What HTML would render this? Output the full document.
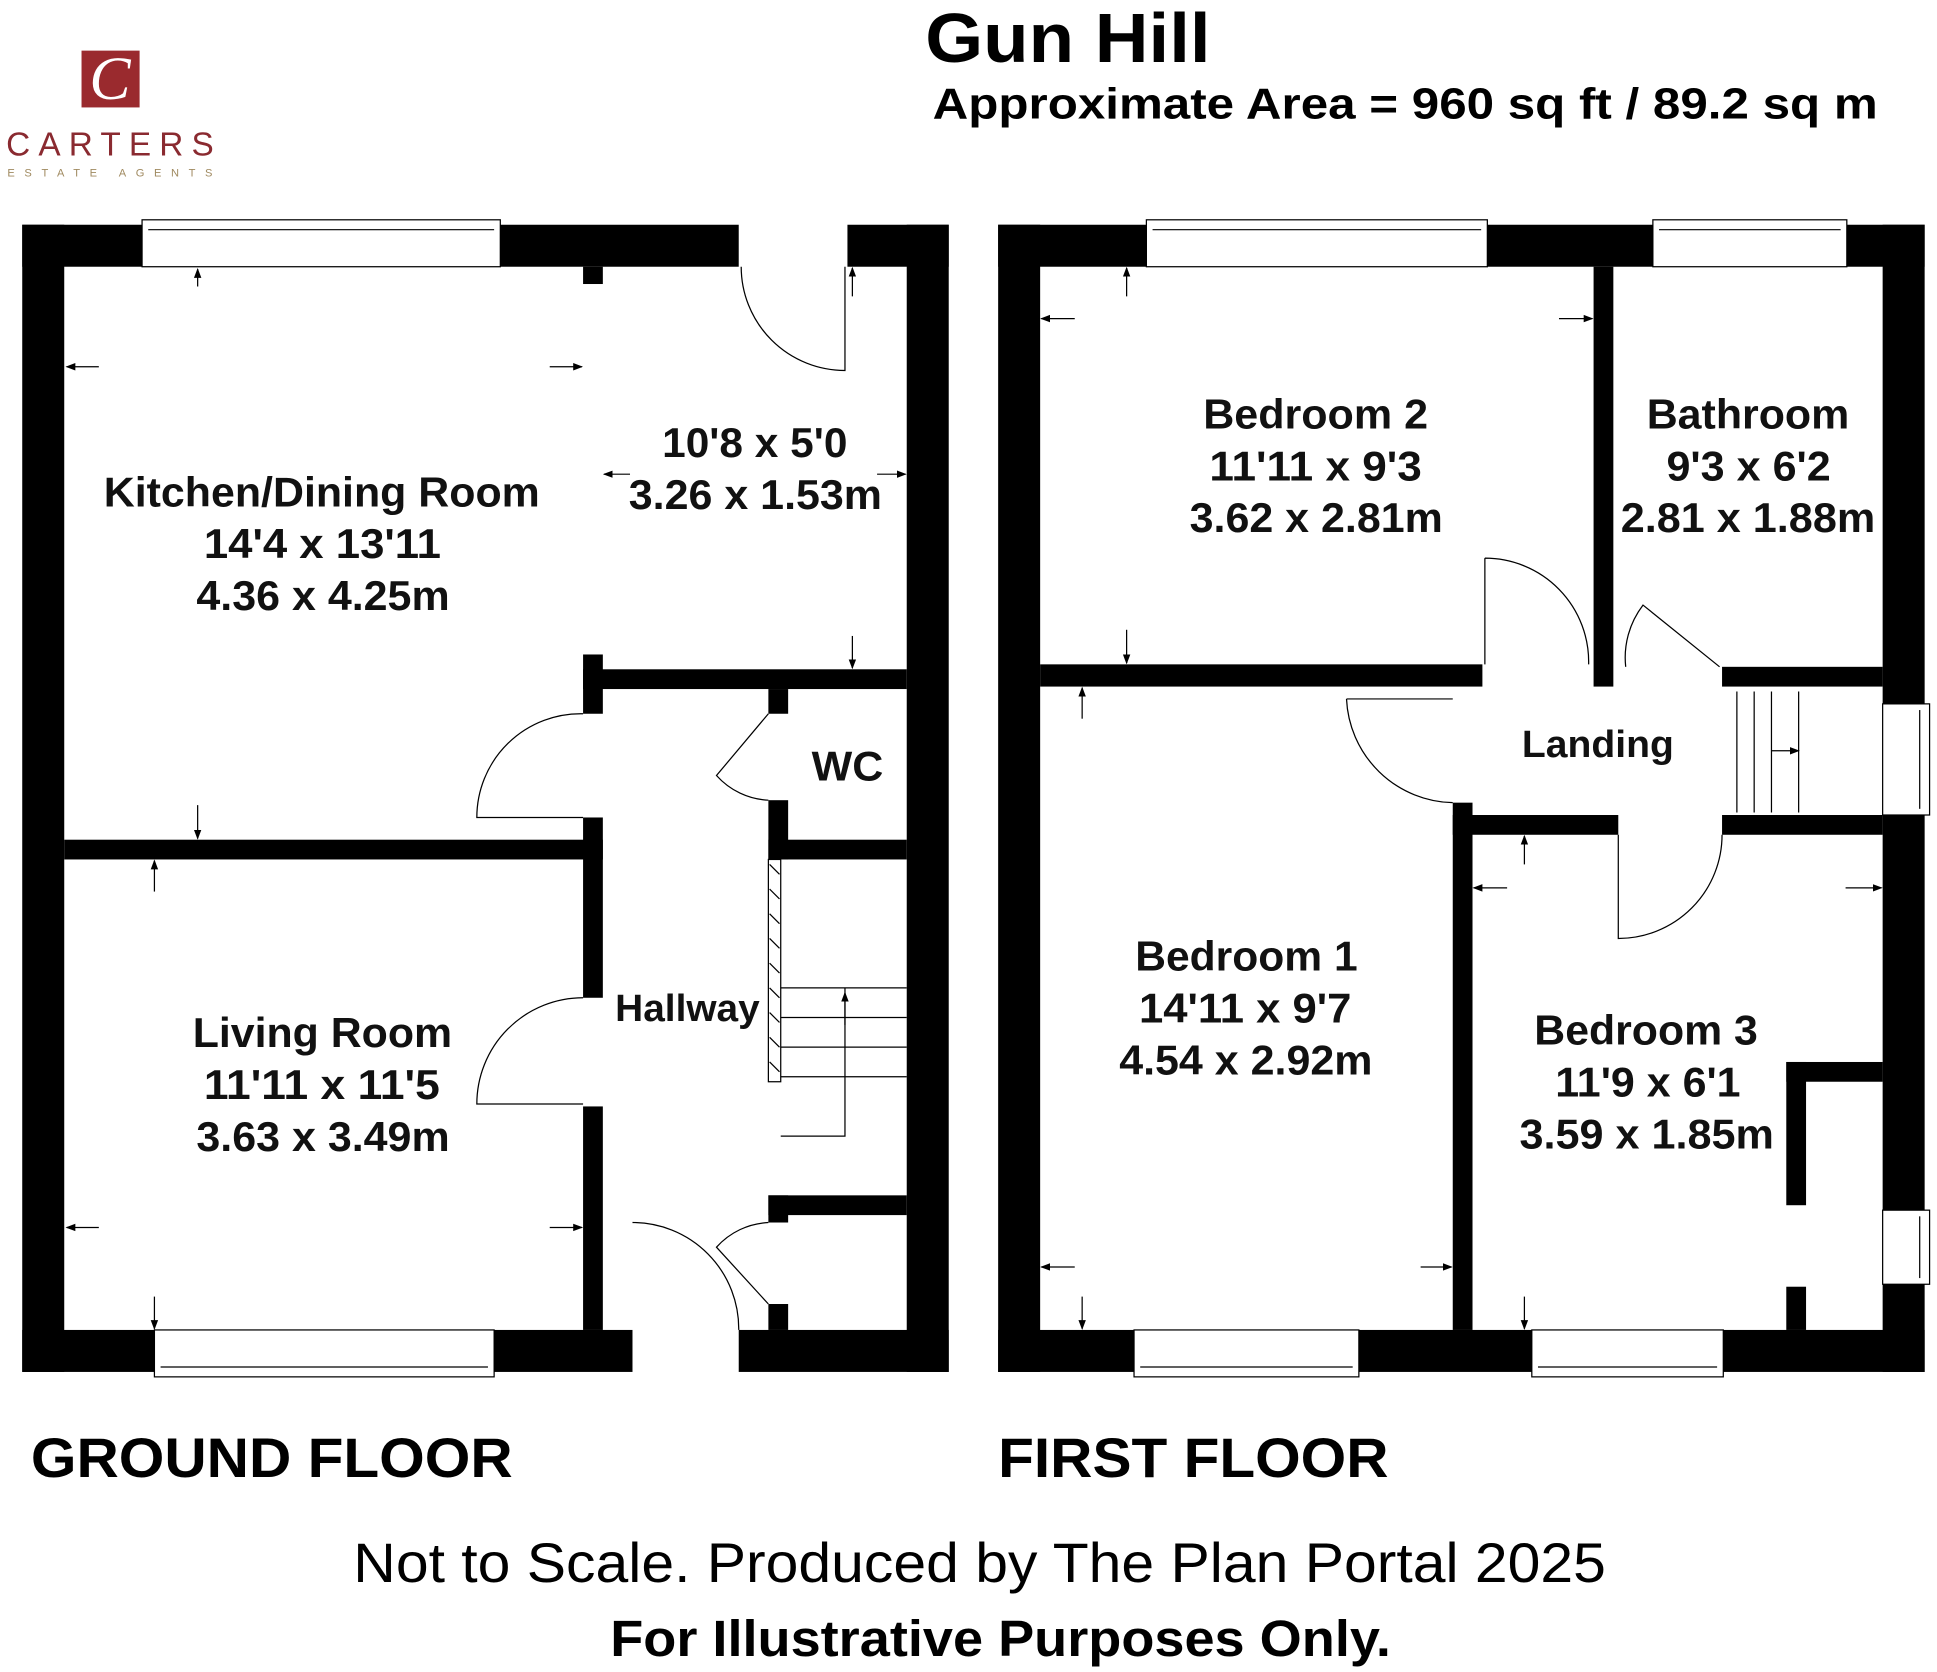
<!DOCTYPE html>
<html><head><style>html,body{margin:0;padding:0;background:#fff}svg{display:block}</style></head>
<body>
<svg width="1937" height="1672" viewBox="0 0 1568 1354" preserveAspectRatio="none" xmlns="http://www.w3.org/2000/svg" font-family="Liberation Sans, Arial, sans-serif">
<defs><marker id="a" markerWidth="8" markerHeight="8" refX="7" refY="4" orient="auto" markerUnits="userSpaceOnUse"><path d="M0 1 L8 4 L0 7 Z" fill="#000"/></marker></defs>
<rect width="1568" height="1354" fill="#fff"/>
<!-- logo -->
<rect x="66" y="41" width="47" height="46" fill="#9a2a2e"/>
<text x="89" y="80" font-family="Liberation Serif, serif" font-style="italic" font-size="50" fill="#fff" text-anchor="middle">C</text>
<text x="5" y="126" font-size="27" fill="#8a2a30" textLength="168" lengthAdjust="spacing">CARTERS</text>
<text x="6" y="143" font-size="9" fill="#a08a60" textLength="166" lengthAdjust="spacing">ESTATE AGENTS</text>
<!-- title -->
<text x="749" y="50" font-size="56" font-weight="bold" textLength="231" lengthAdjust="spacingAndGlyphs">Gun Hill</text>
<text x="755" y="96" font-size="35" font-weight="bold" textLength="765" lengthAdjust="spacingAndGlyphs">Approximate Area = 960 sq ft / 89.2 sq m</text>

<g fill="#000">
<rect x="18" y="182" width="34" height="929"/>
<rect x="18" y="182" width="97" height="34"/>
<rect x="405" y="182" width="193" height="34"/>
<rect x="686" y="182" width="82" height="34"/>
<rect x="734" y="182" width="34" height="929"/>
<rect x="18" y="1077" width="107" height="34"/>
<rect x="400" y="1077" width="112" height="34"/>
<rect x="598" y="1077" width="170" height="34"/>
<rect x="472" y="216" width="16" height="14"/>
<rect x="52" y="680" width="436" height="16"/>
<rect x="472" y="530" width="16" height="48"/>
<rect x="472" y="662" width="16" height="146"/>
<rect x="472" y="896" width="16" height="181"/>
<rect x="472" y="542" width="262" height="16"/>
<rect x="622" y="558" width="16" height="20"/>
<rect x="622" y="648" width="16" height="48"/>
<rect x="622" y="680" width="112" height="16"/>
<rect x="622" y="968" width="112" height="16"/>
<rect x="622" y="968" width="16" height="22"/>
<rect x="622" y="1056" width="16" height="21"/>
<rect x="808" y="182" width="34" height="929"/>
<rect x="808" y="182" width="120" height="34"/>
<rect x="1204" y="182" width="134" height="34"/>
<rect x="1495" y="182" width="63" height="34"/>
<rect x="1524" y="182" width="34" height="388"/>
<rect x="1524" y="660" width="34" height="320"/>
<rect x="1524" y="1040" width="34" height="71"/>
<rect x="808" y="1077" width="110" height="34"/>
<rect x="1100" y="1077" width="140" height="34"/>
<rect x="1395" y="1077" width="163" height="34"/>
<rect x="1290" y="216" width="16" height="340"/>
<rect x="842" y="538" width="358" height="18"/>
<rect x="1394" y="540" width="130" height="16"/>
<rect x="1176" y="650" width="16" height="427"/>
<rect x="1176" y="660" width="134" height="16"/>
<rect x="1394" y="660" width="130" height="16"/>
<rect x="1446" y="860" width="16" height="116"/>
<rect x="1446" y="860" width="78" height="16"/>
<rect x="1446" y="1042" width="16" height="35"/>
</g>
<g fill="#fff" stroke="#000" stroke-width="1">
<rect x="115" y="178" width="290" height="38"/>
<rect x="125" y="1077" width="275" height="38"/>
<rect x="928" y="178" width="276" height="38"/>
<rect x="1338" y="178" width="157" height="38"/>
<rect x="918" y="1077" width="182" height="38"/>
<rect x="1240" y="1077" width="155" height="38"/>
<rect x="1524" y="570" width="38" height="90"/>
<rect x="1524" y="980" width="38" height="60"/>
</g>
<g stroke="#000" stroke-width="1" fill="none">
<line x1="120" y1="186" x2="400" y2="186"/><line x1="130" y1="1107" x2="395" y2="1107"/>
<line x1="933" y1="186" x2="1199" y2="186"/><line x1="1343" y1="186" x2="1490" y2="186"/>
<line x1="923" y1="1107" x2="1095" y2="1107"/><line x1="1245" y1="1107" x2="1390" y2="1107"/>
<line x1="1554" y1="575" x2="1554" y2="655"/><line x1="1554" y1="985" x2="1554" y2="1035"/>
<path d="M600 216 A84 84 0 0 0 684 300 L684 216"/>
<path d="M472 578 A84 84 0 0 0 386 662 L472 662"/>
<path d="M472 808 A86 86 0 0 0 386 894 L472 894"/>
<path d="M512 990 A86 86 0 0 1 598 1077"/>
<path d="M622 578 L580 628 A60 60 0 0 0 622 648"/>
<path d="M622 1056 L580 1010 A60 60 0 0 1 622 990"/>
<path d="M1202 452 A84 84 0 0 1 1286 538 M1202 452 L1202 538"/>
<path d="M1392 540 L1330 490 A70 70 0 0 0 1316 540"/>
<path d="M1090 566 A88 88 0 0 0 1176 650 M1090 566 L1176 566"/>
<path d="M1310 676 L1310 760 A84 84 0 0 0 1394 676"/>
<rect x="622" y="696" width="10" height="180" fill="#fff"/>
<path d="M632 800 H734 M632 824 H734 M632 848 H734 M632 872 H734 M632 920 H684 V800"/>
<path d="M1406 560 V658 M1420 560 V658 M1434 560 V658 M1456 560 V658"/>
</g>
<g stroke="#000" stroke-width="1">
<path d="M623 700 L631 708 M623 720 L631 728 M623 740 L631 748 M623 760 L631 768 M623 780 L631 788 M623 800 L631 808 M623 820 L631 828 M623 840 L631 848 M623 860 L631 868"/>
</g>
<g stroke="#000" stroke-width="1" marker-end="url(#a)">
<line x1="160" y1="232" x2="160" y2="218"/><line x1="80" y1="297" x2="54" y2="297"/><line x1="445" y1="297" x2="471" y2="297"/>
<line x1="160" y1="652" x2="160" y2="679"/><line x1="125" y1="722" x2="125" y2="697"/><line x1="80" y1="994" x2="54" y2="994"/><line x1="445" y1="994" x2="471" y2="994"/><line x1="125" y1="1050" x2="125" y2="1076"/>
<line x1="690" y1="240" x2="690" y2="217"/><line x1="690" y1="515" x2="690" y2="541"/><line x1="510" y1="384" x2="489" y2="384"/><line x1="710" y1="384" x2="733" y2="384"/>
<line x1="912" y1="240" x2="912" y2="217"/><line x1="870" y1="258" x2="843" y2="258"/><line x1="1262" y1="258" x2="1289" y2="258"/><line x1="912" y1="510" x2="912" y2="537"/>
<line x1="876" y1="582" x2="876" y2="557"/><line x1="870" y1="1026" x2="843" y2="1026"/><line x1="1150" y1="1026" x2="1175" y2="1026"/><line x1="876" y1="1050" x2="876" y2="1076"/>
<line x1="1234" y1="700" x2="1234" y2="677"/><line x1="1220" y1="719" x2="1193" y2="719"/><line x1="1494" y1="719" x2="1523" y2="719"/><line x1="1234" y1="1050" x2="1234" y2="1076"/>
<line x1="684" y1="830" x2="684" y2="804"/><line x1="1434" y1="608" x2="1456" y2="608"/>
</g>
<g font-size="34" font-weight="bold" fill="#111" lengthAdjust="spacingAndGlyphs">
<text x="84" y="410" textLength="353" lengthAdjust="spacingAndGlyphs">Kitchen/Dining Room</text><text x="165" y="452" textLength="192" lengthAdjust="spacingAndGlyphs">14'4 x 13'11</text><text x="159" y="494" textLength="205" lengthAdjust="spacingAndGlyphs">4.36 x 4.25m</text>
<text x="536" y="370" textLength="150" lengthAdjust="spacingAndGlyphs">10'8 x 5'0</text><text x="509" y="412" textLength="205" lengthAdjust="spacingAndGlyphs">3.26 x 1.53m</text>
<text x="657" y="632" textLength="58" lengthAdjust="spacingAndGlyphs">WC</text>
<text x="498" y="827" font-size="31" textLength="117" lengthAdjust="spacingAndGlyphs">Hallway</text>
<text x="156" y="848" textLength="210" lengthAdjust="spacingAndGlyphs">Living Room</text><text x="165" y="890" textLength="191" lengthAdjust="spacingAndGlyphs">11'11 x 11'5</text><text x="159" y="932" textLength="205" lengthAdjust="spacingAndGlyphs">3.63 x 3.49m</text>
<text x="974" y="347" textLength="182" lengthAdjust="spacingAndGlyphs">Bedroom 2</text><text x="979" y="389" textLength="172" lengthAdjust="spacingAndGlyphs">11'11 x 9'3</text><text x="963" y="431" textLength="205" lengthAdjust="spacingAndGlyphs">3.62 x 2.81m</text>
<text x="1333" y="347" textLength="164" lengthAdjust="spacingAndGlyphs">Bathroom</text><text x="1349" y="389" textLength="133" lengthAdjust="spacingAndGlyphs">9'3 x 6'2</text><text x="1312" y="431" textLength="206" lengthAdjust="spacingAndGlyphs">2.81 x 1.88m</text>
<text x="1232" y="613" font-size="31" textLength="123" lengthAdjust="spacingAndGlyphs">Landing</text>
<text x="919" y="786" textLength="180" lengthAdjust="spacingAndGlyphs">Bedroom 1</text><text x="922" y="828" textLength="172" lengthAdjust="spacingAndGlyphs">14'11 x 9'7</text><text x="906" y="870" textLength="205" lengthAdjust="spacingAndGlyphs">4.54 x 2.92m</text>
<text x="1242" y="846" textLength="181" lengthAdjust="spacingAndGlyphs">Bedroom 3</text><text x="1259" y="888" textLength="150" lengthAdjust="spacingAndGlyphs">11'9 x 6'1</text><text x="1230" y="930" textLength="206" lengthAdjust="spacingAndGlyphs">3.59 x 1.85m</text>
</g>
<text x="25" y="1196" font-size="45" font-weight="bold" textLength="390" lengthAdjust="spacingAndGlyphs">GROUND FLOOR</text>
<text x="808" y="1196" font-size="45" font-weight="bold" textLength="316" lengthAdjust="spacingAndGlyphs">FIRST FLOOR</text>
<text x="286" y="1281" font-size="45" textLength="1014" lengthAdjust="spacingAndGlyphs">Not to Scale. Produced by The Plan Portal 2025</text>
<text x="494" y="1341" font-size="41" font-weight="bold" textLength="632" lengthAdjust="spacingAndGlyphs">For Illustrative Purposes Only.</text>
</svg>
</body></html>
